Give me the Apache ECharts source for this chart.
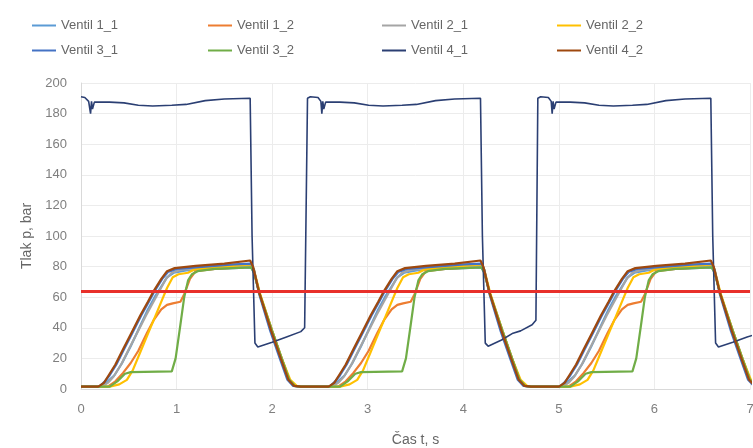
<!DOCTYPE html>
<html>
<head>
<meta charset="utf-8">
<script src="https://cdn.jsdelivr.net/npm/echarts@6/dist/echarts.min.js"></script>
<style>html,body{margin:0;padding:0;background:#fff;}#c{width:753px;height:448px;}</style>
</head>
<body>
<div id="c"></div>
<script>
const seriesNames = ['Ventil 1_1','Ventil 1_2','Ventil 2_1','Ventil 2_2','Ventil 3_1','Ventil 3_2','Ventil 4_1','Ventil 4_2'];
const limitLine = 64;
const xTicks = [0,1,2,3,4,5,6,7];
const yTicks = [0,20,40,60,80,100,120,140,160,180,200];

const v1_1 = [[0,1.5],[0.22,1.5],[0.28,5],[0.35,9],[0.43,17],[0.52,28],[0.61,40],[0.7,52],[0.77,60],[0.83,66],[0.9,73],[0.97,76],[1.1,77.5],[1.4,78.5],[1.78,79.5],[1.81,76],[1.87,62],[1.99,38],[2.09,20],[2.17,6],[2.23,2],[2.3,1.5],
 [2.63,1.5],[2.69,5],[2.76,9],[2.84,17],[2.93,28],[3.02,40],[3.11,52],[3.18,60],[3.24,66],[3.31,73],[3.38,76],[3.51,77.5],[3.81,78.5],[4.19,79.5],[4.22,76],[4.28,62],[4.4,38],[4.5,20],[4.58,6],[4.64,2],[4.71,1.5],
 [5.04,1.5],[5.1,5],[5.17,9],[5.25,17],[5.34,28],[5.43,40],[5.52,52],[5.59,60],[5.65,66],[5.72,73],[5.79,76],[5.92,77.5],[6.22,78.5],[6.6,79.5],[6.63,76],[6.69,62],[6.81,38],[6.91,20],[6.99,6],[7.05,2]];
const v1_2 = [[0,1.5],[0.28,1.5],[0.36,5],[0.44,10.5],[0.52,17],[0.6,25],[0.69,36.6],[0.76,45],[0.84,52],[0.9,55],[0.96,56],[1.04,57],[1.08,62],[1.14,72],[1.2,77],[1.4,78.5],[1.78,80],[1.81,77],[1.87,62],[2.0,38],[2.1,20],[2.18,6],[2.24,2],[2.3,1.5],
 [2.69,1.5],[2.77,5],[2.85,10.5],[2.93,17],[3.01,25],[3.1,36.6],[3.17,45],[3.25,52],[3.31,55],[3.37,56],[3.45,57],[3.49,62],[3.55,72],[3.61,77],[3.81,78.5],[4.19,80],[4.22,77],[4.28,62],[4.41,38],[4.51,20],[4.59,6],[4.65,2],[4.71,1.5],
 [5.1,1.5],[5.18,5],[5.26,10.5],[5.34,17],[5.42,25],[5.51,36.6],[5.58,45],[5.66,52],[5.72,55],[5.78,56],[5.86,57],[5.9,62],[5.96,72],[6.02,77],[6.22,78.5],[6.6,80],[6.63,77],[6.69,62],[6.82,38],[6.92,20],[7.0,6],[7.06,2]];
const v2_1 = [[0,1.5],[0.22,1.5],[0.28,4],[0.34,8],[0.42,16],[0.5,26],[0.59,37],[0.68,48],[0.75,56],[0.82,64],[0.89,72],[0.95,76],[1.05,78],[1.3,79],[1.6,80],[1.78,80.5],[1.81,77],[1.87,62],[2.0,38],[2.1,20],[2.18,6],[2.24,2],[2.3,1.5],
 [2.63,1.5],[2.69,4],[2.75,8],[2.83,16],[2.91,26],[3.0,37],[3.09,48],[3.16,56],[3.23,64],[3.3,72],[3.36,76],[3.46,78],[3.71,79],[4.01,80],[4.19,80.5],[4.22,77],[4.28,62],[4.41,38],[4.51,20],[4.59,6],[4.65,2],[4.71,1.5],
 [5.04,1.5],[5.1,4],[5.16,8],[5.24,16],[5.32,26],[5.41,37],[5.5,48],[5.57,56],[5.64,64],[5.71,72],[5.77,76],[5.87,78],[6.12,79],[6.42,80],[6.6,80.5],[6.63,77],[6.69,62],[6.82,38],[6.92,20],[7.0,6],[7.06,2]];
const v2_2 = [[0,1.5],[0.3,1.5],[0.4,3],[0.48,6],[0.54,12],[0.62,24],[0.7,36],[0.78,48],[0.86,60],[0.9,66],[0.96,73],[1.02,75],[1.12,76],[1.18,78],[1.4,79.5],[1.78,81.5],[1.81,78],[1.87,63],[2.0,38],[2.1,20],[2.19,6],[2.26,2],[2.32,1.5],
 [2.71,1.5],[2.81,3],[2.89,6],[2.95,12],[3.03,24],[3.11,36],[3.19,48],[3.27,60],[3.31,66],[3.37,73],[3.43,75],[3.53,76],[3.59,78],[3.81,79.5],[4.19,81.5],[4.22,78],[4.28,63],[4.41,38],[4.51,20],[4.6,6],[4.67,2],[4.73,1.5],
 [5.12,1.5],[5.22,3],[5.3,6],[5.36,12],[5.44,24],[5.52,36],[5.6,48],[5.68,60],[5.72,66],[5.78,73],[5.84,75],[5.94,76],[6.0,78],[6.22,79.5],[6.6,81.5],[6.63,78],[6.69,63],[6.82,38],[6.92,20],[7.01,6],[7.08,2]];
const v3_1 = [[0,1.5],[0.19,1.5],[0.25,5],[0.3,9],[0.37,16],[0.45,26],[0.54,37],[0.63,48],[0.71,57],[0.77,64],[0.85,72],[0.91,76.5],[1.0,78.5],[1.3,80],[1.6,81.5],[1.78,82],[1.81,78],[1.86,63],[1.98,38],[2.08,20],[2.16,6],[2.22,2],[2.3,1.5],
 [2.6,1.5],[2.66,5],[2.71,9],[2.78,16],[2.86,26],[2.95,37],[3.04,48],[3.12,57],[3.18,64],[3.26,72],[3.32,76.5],[3.41,78.5],[3.71,80],[4.01,81.5],[4.19,82],[4.22,78],[4.27,63],[4.39,38],[4.49,20],[4.57,6],[4.63,2],[4.71,1.5],
 [5.01,1.5],[5.07,5],[5.12,9],[5.19,16],[5.27,26],[5.36,37],[5.45,48],[5.53,57],[5.59,64],[5.67,72],[5.73,76.5],[5.82,78.5],[6.12,80],[6.42,81.5],[6.6,82],[6.63,78],[6.68,63],[6.8,38],[6.9,20],[6.98,6],[7.04,2]];
const v3_2 = [[0,1.5],[0.3,1.5],[0.38,5],[0.46,10],[0.52,11],[0.95,11.5],[0.99,20],[1.04,42],[1.08,60],[1.12,71],[1.16,75],[1.22,77],[1.4,78.5],[1.78,79.5],[1.81,76],[1.87,62],[2.0,38],[2.1,20],[2.18,6],[2.24,2],[2.3,1.5],
 [2.71,1.5],[2.79,5],[2.87,10],[2.93,11],[3.36,11.5],[3.4,20],[3.45,42],[3.49,60],[3.53,71],[3.57,75],[3.63,77],[3.81,78.5],[4.19,79.5],[4.22,76],[4.28,62],[4.41,38],[4.51,20],[4.59,6],[4.65,2],[4.71,1.5],
 [5.12,1.5],[5.2,5],[5.28,10],[5.34,11],[5.77,11.5],[5.81,20],[5.86,42],[5.9,60],[5.94,71],[5.98,75],[6.04,77],[6.22,78.5],[6.6,79.5],[6.63,76],[6.69,62],[6.82,38],[6.92,20],[7.0,6],[7.06,2]];
const v4_1 = [[0,191],[0.04,190.5],[0.08,188],[0.1,180],[0.11,188],[0.12,183],[0.14,187.5],[0.3,187.5],[0.45,187],[0.6,185.5],[0.75,185],[0.95,185.5],[1.1,186],[1.3,188.5],[1.5,189.5],[1.77,190],[1.79,100],[1.82,30],[1.85,27.5],[2.0,30.5],[2.15,34],[2.3,37.5],[2.34,40],[2.37,190],[2.4,191],
 [2.48,190.5],[2.51,188],[2.52,180],[2.53,188],[2.54,183],[2.56,187.5],[2.71,187.5],[2.86,187],[3.01,185.5],[3.16,185],[3.36,185.5],[3.51,186],[3.71,188.5],[3.91,189.5],[4.18,190],[4.2,100],[4.23,30],[4.26,28],[4.4,32],[4.52,36.5],[4.6,38],[4.72,42],[4.76,45],[4.78,190],[4.81,191],
 [4.89,190.5],[4.92,188],[4.93,180],[4.94,188],[4.95,183],[4.97,187.5],[5.12,187.5],[5.27,187],[5.42,185.5],[5.57,185],[5.77,185.5],[5.92,186],[6.12,188.5],[6.32,189.5],[6.59,190],[6.61,100],[6.64,30],[6.67,27.5],[6.82,30.5],[6.97,34],[7.05,35.5]];
const v4_2 = [[0,1.5],[0.18,1.5],[0.24,4],[0.29,9],[0.36,16],[0.44,26],[0.53,37],[0.62,48],[0.7,57],[0.76,64],[0.84,72],[0.9,77],[0.98,79],[1.2,80.5],[1.5,82],[1.77,84],[1.8,80],[1.86,64],[1.99,38],[2.09,20],[2.17,6],[2.23,2],[2.3,1.5],
 [2.59,1.5],[2.65,4],[2.7,9],[2.77,16],[2.85,26],[2.94,37],[3.03,48],[3.11,57],[3.17,64],[3.25,72],[3.31,77],[3.39,79],[3.61,80.5],[3.91,82],[4.18,84],[4.21,80],[4.27,64],[4.4,38],[4.5,20],[4.58,6],[4.64,2],[4.71,1.5],
 [5.0,1.5],[5.06,4],[5.11,9],[5.18,16],[5.26,26],[5.35,37],[5.44,48],[5.52,57],[5.58,64],[5.66,72],[5.72,77],[5.8,79],[6.02,80.5],[6.32,82],[6.59,84],[6.62,80],[6.68,64],[6.81,38],[6.91,20],[6.99,6],[7.05,2]];

const allData = [v1_1, v1_2, v2_1, v2_2, v3_1, v3_2, v4_1, v4_2];
const colors = ['#5B9BD5','#ED7D31','#A5A5A5','#FFC000','#4472C4','#70AD47','#2B3F73','#9E480E'];

const FONT = "'Liberation Sans', Arial, sans-serif";
const legendLeft = [27, 203, 377, 552];
const legendTop = [14, 39];
const legends = seriesNames.map((n, i) => ({
  data: [n], left: legendLeft[i % 4], top: legendTop[Math.floor(i / 4)],
  icon: 'rect', itemWidth: 24, itemHeight: 2, itemGap: 0,
  textStyle: { color: '#666', fontSize: 13, fontFamily: FONT, padding: [0,0,0,0] }
}));

const series = seriesNames.map((n, i) => ({
  name: n, type: 'line', data: allData[i], showSymbol: false, symbol: 'none',
  smooth: false, clip: true, color: colors[i],
  lineStyle: { width: i === 6 ? 1.6 : 2.2, color: colors[i] }, animation: false
}));
series[7].markLine = {
  silent: true, symbol: ['none','none'], label: { show: false },
  lineStyle: { color: '#E8302A', width: 3, type: 'solid' },
  data: [{ yAxis: limitLine }], animation: false
};

const chart = echarts.init(document.getElementById('c'), null, { renderer: 'canvas' });
chart.setOption({
  animation: false,
  backgroundColor: '#fff',
  legend: legends,
  grid: { left: 81, right: 3, top: 83, bottom: 59, containLabel: false, outerBoundsMode: 'none' },
  xAxis: {
    type: 'value', min: xTicks[0], max: xTicks[xTicks.length - 1], interval: 1,
    name: 'Čas t, s', nameLocation: 'middle', nameGap: 44,
    nameTextStyle: { color: '#666', fontSize: 14, fontFamily: FONT },
    axisLine: { show: true, lineStyle: { color: '#d9d9d9' } },
    axisTick: { show: false },
    axisLabel: { color: '#7f7f7f', fontSize: 13, fontFamily: FONT, margin: 14 },
    splitLine: { show: true, lineStyle: { color: '#ececec' } }
  },
  yAxis: {
    type: 'value', min: yTicks[0], max: yTicks[yTicks.length - 1], interval: 20,
    name: 'Tlak p, bar', nameLocation: 'middle', nameGap: 47,
    nameTextStyle: { color: '#666', fontSize: 14, fontFamily: FONT },
    axisLine: { show: true, lineStyle: { color: '#d9d9d9' } },
    axisTick: { show: false },
    axisLabel: { color: '#7f7f7f', fontSize: 13, fontFamily: FONT, margin: 14 },
    splitLine: { show: true, lineStyle: { color: '#ececec' } }
  },
  series: series
});
</script>
</body>
</html>
